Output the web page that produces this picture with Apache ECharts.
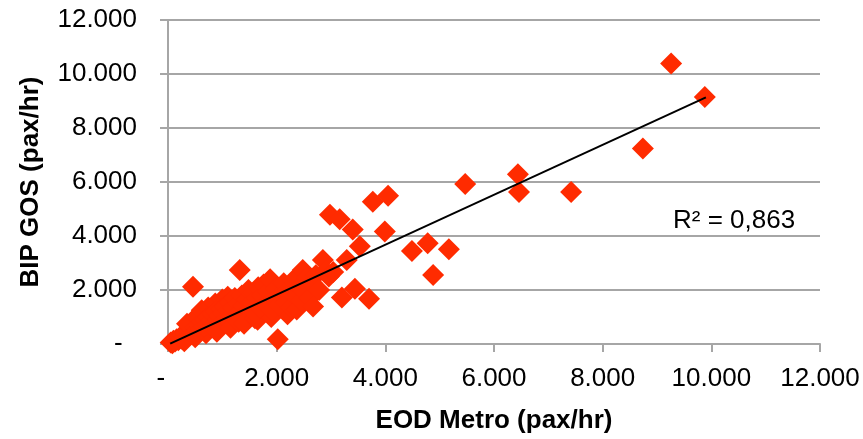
<!DOCTYPE html>
<html>
<head>
<meta charset="utf-8">
<script src="https://cdn.jsdelivr.net/npm/echarts@6/dist/echarts.min.js"></script>
<style>
	html, body { margin: 0; padding: 0; background: #fff; }
	#chart { width: 863px; height: 439px; }
</style>
</head>
<body>
<div id="chart"></div>
<script>
// EOD Metro (x) vs BIP GOS (y), pax/hr
const eodMetro = [
	50, 80, 100, 130, 160, 190, 220, 250, 280, 300, 330, 360, 390, 420, 450, 460,
	300, 500, 700, 350, 520, 620, 740, 870, 1000, 1100,
	480, 510, 540, 570, 600, 630, 660, 690, 720, 750, 780, 800, 830, 860, 890, 920, 950, 980, 1000, 1020,
	1050, 1080, 1110, 1140, 1170, 1200, 1230, 1260, 1290, 1320, 1330, 1360, 1390, 1420, 1450, 1480, 1500,
	900, 1150, 1300, 1400, 1600, 1650, 1900, 1900, 2200, 2200,
	1540, 1570, 1600, 1630, 1660, 1700, 1730, 1760, 1800, 1840, 1880, 1910, 1950, 1990, 2020, 2040, 2080,
	2130, 2170, 2210, 2260, 2300, 2350, 2370, 2420, 2460, 2480, 2500, 2560, 2600, 2650, 2670, 2720, 2780,
	2850, 2900, 2960, 3040, 2980, 3160, 3290, 3400, 3530, 3770, 4050, 3990, 4490, 4780, 5170, 4880,
	3440, 3200, 3700, 5470, 6440, 6460, 7420, 8740, 9260, 9880
]
const bipGos = [
	60, 30, 120, 90, 180, 140, 250, 200, 320, 260, 380, 300, 450, 360, 530, 2120,
	100, 250, 400, 750, 1000, 1250, 1350, 1500, 1650, 1750,
	420, 600, 500, 700, 560, 820, 640, 900, 720, 1000, 600, 850, 1100, 760, 1200, 900, 1050, 1300, 800, 1150,
	1400, 950, 1250, 1550, 1050, 1350, 1700, 900, 1500, 2740, 1200, 1800, 1400, 1000, 1650, 2000, 1250,
	450, 600, 820, 750, 950, 900, 1100, 1000, 1200, 1100,
	1550, 1900, 1150, 1700, 2100, 1350, 1800, 2200, 1500, 1950, 2400, 1250, 1700, 2050, 180, 1450, 1850,
	2250, 1550, 2000, 1350, 2350, 1750, 1280, 2100, 1600, 2740, 1950, 2450, 1700, 2250, 1390, 2550, 2000,
	3110, 2700, 2500, 2670, 4790, 4620, 3110, 4240, 3620, 5270, 5490, 4170, 3440, 3730, 3510, 2560,
	2050, 1720, 1680, 5930, 6290, 5630, 5630, 7240, 10390, 9150
]
// linear trendline end points
const trendX = [40, 9900]
const trendY = [12, 9133]
const rSquared = "R² = 0,863"

const axisTicks = [0, 2000, 4000, 6000, 8000, 10000, 12000]

const fmt = (v, pad) => (v === 0 ? "-" + pad : String(v / 1000) + ".000")

const chart = echarts.init(document.getElementById("chart"))
const font = "'Liberation Sans', Arial, sans-serif"
const gridColor = "#a6a6a6"

chart.setOption({
	animation: false,
	grid: { left: 168, right: 43, top: 20, bottom: 91, containLabel: false },
	xAxis: {
		type: "value",
		min: axisTicks[0],
		max: axisTicks[axisTicks.length - 1],
		interval: 2000,
		name: "EOD Metro (pax/hr)",
		nameLocation: "middle",
		nameGap: 64,
		nameTextStyle: { fontFamily: font, fontSize: 26, fontWeight: "bold", color: "#000" },
		axisLine: { show: true, onZero: false, lineStyle: { color: gridColor, width: 2 } },
		axisTick: { show: true, inside: false, length: 8, lineStyle: { color: gridColor, width: 2 } },
		axisLabel: {
			margin: 22,
			fontFamily: font,
			fontSize: 26,
			color: "#000",
			formatter: v => fmt(v, "  "),
		},
		splitLine: { show: false },
	},
	yAxis: {
		type: "value",
		min: axisTicks[0],
		max: axisTicks[axisTicks.length - 1],
		interval: 2000,
		name: "BIP GOS (pax/hr)",
		nameLocation: "middle",
		nameGap: 124,
		nameTextStyle: { fontFamily: font, fontSize: 26, fontWeight: "bold", color: "#000" },
		axisLine: { show: true, onZero: false, lineStyle: { color: gridColor, width: 2 } },
		axisTick: { show: true, inside: false, length: 8, lineStyle: { color: gridColor, width: 2 } },
		axisLabel: {
			margin: 31,
			fontFamily: font,
			fontSize: 26,
			color: "#000",
			formatter: v => fmt(v, "  "),
		},
		splitLine: { show: true, lineStyle: { color: gridColor, width: 2 } },
	},
	series: [
		{
			type: "scatter",
			symbol: "diamond",
			symbolSize: 22,
			itemStyle: { color: "#ff2b00", opacity: 1 },
			data: eodMetro.map((x, i) => [x, bipGos[i]]),
			z: 2,
		},
		{
			type: "line",
			data: trendX.map((x, i) => [x, trendY[i]]),
			showSymbol: false,
			symbol: "none",
			lineStyle: { color: "#000", width: 2 },
			z: 3,
		},
	],
	graphic: [
		{
			type: "text",
			left: 673,
			top: 208,
			style: { text: rSquared, font: `26px ${font}`, fill: "#000" },
		},
	],
})
</script>
</body>
</html>
